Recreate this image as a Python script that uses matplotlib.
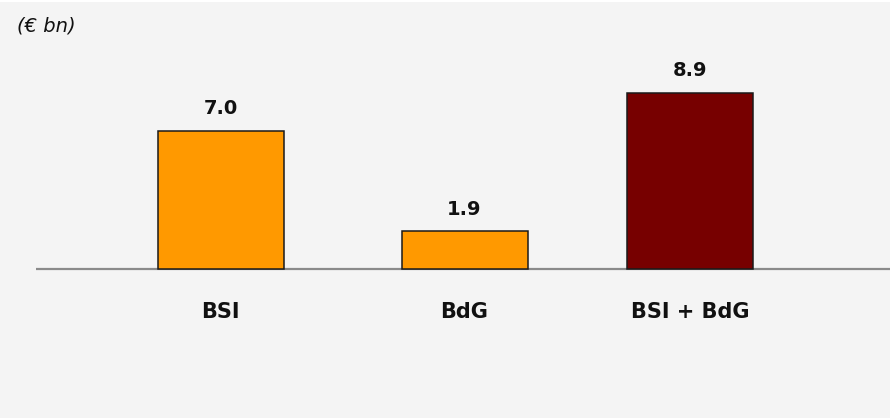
import matplotlib
matplotlib.use("Agg")
import matplotlib.pyplot as plt
from matplotlib.patches import Rectangle

categories = ["BSI", "BdG", "BSI + BdG"]
values = [7.0, 1.9, 8.9]
value_labels = ["7.0", "1.9", "8.9"]
unit_label = "(€ bn)"

# layout (not data)
xpos = [0.0, 1.0, 1.924]
bar_colors = ["#FF9900", "#FF9900", "#770000"]

W, H, DPI = 890, 418, 100
fig = plt.figure(figsize=(W / DPI, H / DPI), dpi=DPI)
fig.patch.set_facecolor("#F4F4F4")
fig.patches.append(Rectangle((0, 1 - 2 / H), 1, 2 / H, transform=fig.transFigure,
                             facecolor="white", edgecolor="none", zorder=0))

ax = fig.add_axes([36 / W, 0, 1 - 36 / W, 1])
ax.set_facecolor("none")
px_per_unit_x = 244.0
x0_px = 220.5 - 36
ax.set_xlim(-x0_px / px_per_unit_x, (W - 36 - x0_px) / px_per_unit_x)
px_per_unit_y = 19.77
base_px = 269
ax.set_ylim(-(H - base_px) / px_per_unit_y, base_px / px_per_unit_y)

ax.bar(xpos, values, width=126 / px_per_unit_x, color=bar_colors,
       edgecolor="#1a1a1a", linewidth=1.1, zorder=3)
ax.axhline(0, color="#8a8a8a", linewidth=1.6, zorder=2)

for x, v, lab in zip(xpos, values, value_labels):
    ax.annotate(lab, xy=(x, v), xytext=(0, 12), textcoords="offset points",
                ha="center", va="baseline", fontsize=14, fontweight="bold",
                color="#111111")

for x, c in zip(xpos, categories):
    ax.annotate(c, xy=(x, 0), xytext=(0, -35), textcoords="offset points",
                ha="center", va="baseline", fontsize=15, fontweight="bold",
                color="#111111")

fig.text(17 / W, 1 - 31 / H, unit_label, fontsize=14, fontstyle="italic",
         ha="left", va="baseline", color="#111111")

ax.axis("off")
fig.savefig("out.png", dpi=DPI, facecolor=fig.get_facecolor())
